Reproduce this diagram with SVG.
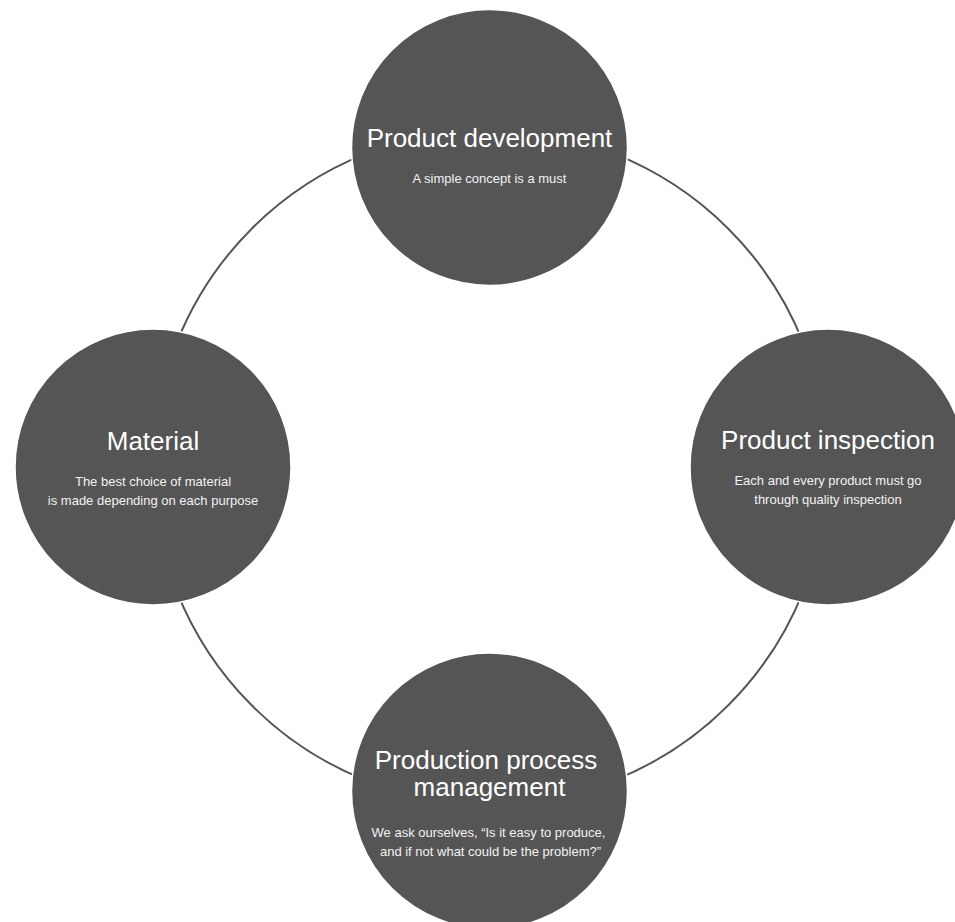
<svg xmlns="http://www.w3.org/2000/svg" width="955" height="922" viewBox="0 0 955 922">
<style>
.node{fill:#555555;stroke:#ffffff;stroke-width:1.5}
.ring{fill:none;stroke:#555555;stroke-width:2}
.t{font-family:"Liberation Sans",Arial,Helvetica,sans-serif;fill:#ffffff;text-anchor:middle}
.h{font-size:26px}
.s{font-size:13px;fill:#f2f2f2}
</style>
<rect width="955" height="922" fill="#ffffff"/>
<g id="connectors">
<circle class="ring" cx="490" cy="467" r="337"/>
</g>
<g id="node-product-development">
<circle class="node" cx="489.5" cy="147.5" r="138"/>
<text class="t h" x="489.5" y="147">Product development</text>
<text class="t s" x="489.5" y="183">A simple concept is a must</text>
</g>
<g id="node-material">
<circle class="node" cx="153" cy="467" r="138"/>
<text class="t h" x="153" y="450">Material</text>
<text class="t s" x="153" y="486">The best choice of material</text>
<text class="t s" x="153" y="505">is made depending on each purpose</text>
</g>
<g id="node-product-inspection">
<circle class="node" cx="828" cy="467" r="138"/>
<text class="t h" x="828" y="449">Product inspection</text>
<text class="t s" x="828" y="485">Each and every product must go</text>
<text class="t s" x="828" y="504">through quality inspection</text>
</g>
<g id="node-production-process-management">
<circle class="node" cx="489.5" cy="791" r="138"/>
<text class="t h"><tspan x="486" y="769">Production process</tspan><tspan x="489.5" y="796">management</tspan></text>
<text class="t s"><tspan x="488.5" y="837">We ask ourselves, “Is it easy to produce,</tspan><tspan x="490.5" y="856">and if not what could be the problem?”</tspan></text>
</g>
</svg>
